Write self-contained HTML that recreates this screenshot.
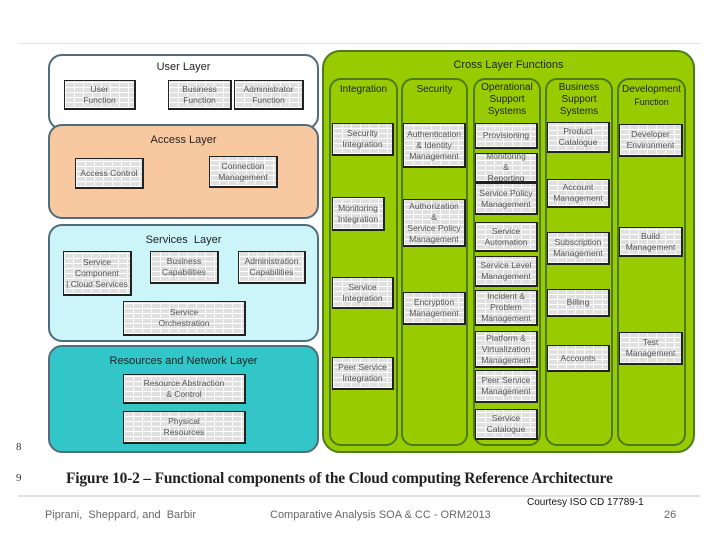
<!DOCTYPE html>
<html><head><style>
body{margin:0;width:720px;height:540px;background:#fff;position:relative;overflow:hidden;font-family:"Liberation Sans",sans-serif}
div{box-sizing:border-box}
.a{position:absolute}
.L{position:absolute;border:2px solid #4f6d7a;border-radius:14px}
.t{position:absolute;width:100%;text-align:center;color:#222;font-size:11px}
.b{position:absolute;border:1.5px solid #222;border-right-width:2.5px;border-bottom-width:2.5px;
background-color:#e0e0e0;
background-image:repeating-linear-gradient(0deg,#fff 0 1px,transparent 1px 5px),repeating-linear-gradient(90deg,#fafafa 0 1px,transparent 1px 9px);
display:flex;align-items:center;justify-content:center;text-align:center;font-size:8.5px;line-height:11px;color:#555}
.c{position:absolute;top:78px;height:368px;border:2px solid #4d7a1e;border-radius:12px;background:#99cc00}
.ct{position:absolute;text-align:center;font-size:10px;line-height:12px;color:#222}
.f{position:absolute;font-size:11px;color:#666}
</style></head><body>
<div class="a" style="left:18px;top:43px;width:682px;height:1px;background:#e4e4e4"></div>

<div class="L" style="left:48px;top:54px;width:271px;height:76px;background:#fff"><div class="t" style="top:5px">User Layer</div></div>
<div class="L" style="left:48px;top:124px;width:271px;height:95px;background:#f8c9a0"><div class="t" style="top:8px">Access Layer</div></div>
<div class="L" style="left:48px;top:224px;width:271px;height:118px;background:#ccf5fa"><div class="t" style="top:8px">Services&nbsp; Layer</div></div>
<div class="L" style="left:48px;top:345px;width:271px;height:108px;background:#33c6c8"><div class="t" style="top:8px">Resources and Network Layer</div></div>

<div class="b" style="left:64px;top:80px;width:72px;height:30px">User<br>Function</div>
<div class="b" style="left:168px;top:80px;width:64px;height:30px">Business<br>Function</div>
<div class="b" style="left:234px;top:80px;width:70px;height:30px">Administrator<br>Function</div>
<div class="b" style="left:75px;top:158px;width:69px;height:31px">Access Control</div>
<div class="b" style="left:209px;top:156px;width:69px;height:32px">Connection<br>Management</div>
<div class="b" style="left:63px;top:251px;width:69px;height:45px">Service<br>Component<br>| Cloud Services</div>
<div class="b" style="left:150px;top:251px;width:69px;height:33px">Business<br>Capabilities</div>
<div class="b" style="left:238px;top:251px;width:68px;height:33px">Administration<br>Capabilities</div>
<div class="b" style="left:123px;top:301px;width:123px;height:35px">Service<br>Orchestration</div>
<div class="b" style="left:123px;top:374px;width:123px;height:30px">Resource Abstraction<br>&amp; Control</div>
<div class="b" style="left:123px;top:411px;width:123px;height:33px">Physical<br>Resources</div>

<div class="a" style="left:322px;top:50px;width:373px;height:403px;border:2.5px solid #4d7a1e;border-radius:18px;background:#99cc00"></div>
<div class="ct" style="left:322px;top:59px;width:373px;font-size:11px">Cross Layer Functions</div>
<div class="c" style="left:329px;width:69px"></div>
<div class="c" style="left:401px;width:67px"></div>
<div class="c" style="left:473px;width:68px"></div>
<div class="c" style="left:545px;width:68px"></div>
<div class="c" style="left:617px;width:69px"></div>
<div class="ct" style="left:329px;top:84px;width:69px">Integration</div>
<div class="ct" style="left:401px;top:84px;width:67px">Security</div>
<div class="ct" style="left:473px;top:82px;width:68px">Operational<br>Support<br>Systems</div>
<div class="ct" style="left:545px;top:82px;width:68px">Business<br>Support<br>Systems</div>
<div class="ct" style="left:617px;top:84px;width:69px">Development<br><span style="font-size:9px">Function</span></div>

<div class="b" style="left:332px;top:123px;width:62px;height:33px">Security<br>Integration</div>
<div class="b" style="left:332px;top:197px;width:53px;height:34px">Monitoring<br>Integration</div>
<div class="b" style="left:332px;top:277px;width:62px;height:32px">Service<br>Integration</div>
<div class="b" style="left:332px;top:357px;width:62px;height:33px">Peer Service<br>Integration</div>

<div class="b" style="left:403px;top:123px;width:63px;height:45px">Authentication<br>&amp; Identity<br>Management</div>
<div class="b" style="left:403px;top:199px;width:63px;height:48px">Authorization<br>&amp;<br>Service Policy<br>Management</div>
<div class="b" style="left:403px;top:292px;width:63px;height:33px">Encryption<br>Management</div>

<div class="b" style="left:475px;top:123px;width:63px;height:26px">Provisioning</div>
<div class="b" style="left:475px;top:153px;width:63px;height:30px;overflow:hidden">Monitoring<br>&amp;<br>Reporting</div>
<div class="b" style="left:475px;top:183px;width:63px;height:32px">Service Policy<br>Management</div>
<div class="b" style="left:475px;top:222px;width:63px;height:30px">Service<br>Automation</div>
<div class="b" style="left:475px;top:256px;width:63px;height:31px">Service Level<br>Management</div>
<div class="b" style="left:475px;top:290px;width:63px;height:36px">Incident &amp;<br>Problem<br>Management</div>
<div class="b" style="left:475px;top:331px;width:63px;height:37px">Platform &amp;<br>Virtualization<br>Management</div>
<div class="b" style="left:475px;top:370px;width:63px;height:33px">Peer Service<br>Management</div>
<div class="b" style="left:475px;top:409px;width:63px;height:31px">Service<br>Catalogue</div>

<div class="b" style="left:547px;top:122px;width:63px;height:31px">Product<br>Catalogue</div>
<div class="b" style="left:547px;top:179px;width:63px;height:29px">Account<br>Management</div>
<div class="b" style="left:547px;top:232px;width:63px;height:33px">Subscription<br>Management</div>
<div class="b" style="left:547px;top:289px;width:63px;height:28px">Billing</div>
<div class="b" style="left:547px;top:345px;width:63px;height:27px">Accounts</div>

<div class="b" style="left:619px;top:124px;width:64px;height:33px">Developer<br>Environment</div>
<div class="b" style="left:619px;top:227px;width:64px;height:30px">Build<br>Management</div>
<div class="b" style="left:619px;top:332px;width:64px;height:33px">Test<br>Management</div>

<div class="a" style="left:16px;top:441px;font-family:'Liberation Serif',serif;font-size:11px;color:#333">8</div>
<div class="a" style="left:16px;top:472px;font-family:'Liberation Serif',serif;font-size:11px;color:#333">9</div>
<div class="a" style="left:66px;top:470px;font-family:'Liberation Serif',serif;font-size:15.5px;font-weight:bold;color:#222;letter-spacing:-0.2px;white-space:nowrap">Figure 10-2 – Functional components of the Cloud computing Reference Architecture</div>
<div class="a" style="left:18px;top:495px;width:682px;height:2px;background:#e0e0e0"></div>
<div class="f" style="left:45px;top:509px">Piprani,&nbsp; Sheppard, and&nbsp; Barbir</div>
<div class="f" style="left:270px;top:509px">Comparative Analysis SOA &amp; CC - ORM2013</div>
<div class="a" style="left:527px;top:497px;font-size:10px;color:#111">Courtesy ISO CD 17789-1</div>
<div class="f" style="left:664px;top:509px">26</div>
</body></html>
